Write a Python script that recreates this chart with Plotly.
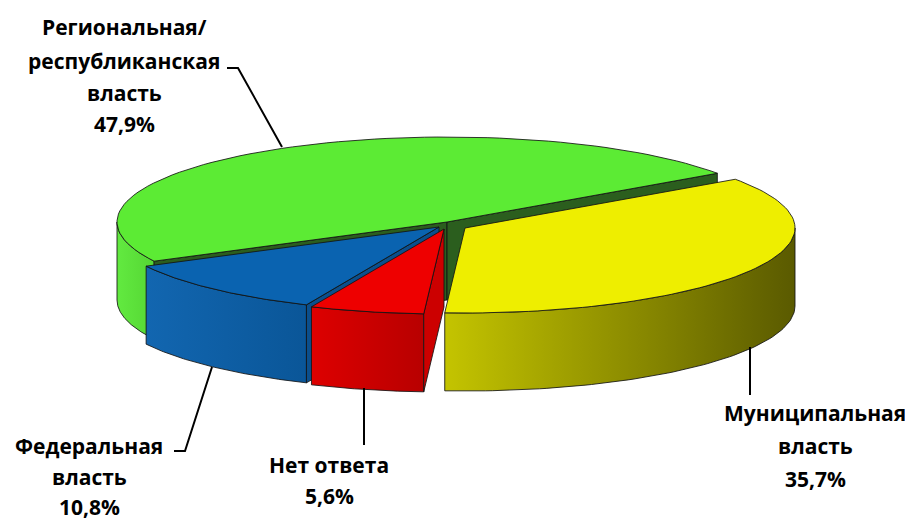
import numpy as np
import plotly.graph_objects as go

# ---- data ----
categories = ["Муниципальная власть", "Нет ответа", "Федеральная власть", "Региональная/республиканская власть"]
values = [35.7, 5.6, 10.8, 47.9]
label_lines = [
    ["Муниципальная", "власть", "35,7%"],
    ["Нет ответа", "5,6%"],
    ["Федеральная", "власть", "10,8%"],
    ["Региональная/", "республиканская", "власть", "47,9%"],
]

# ---- style / layout ----
W, H = 913, 520
PAD = 8  # page body margin
CX, CY, RX, RY, DEPTH = 447, 222, 330, 85, 78
START = 35.0
offsets = [(18, 6), (-3, 7), (-8, 5), (0, 0)]
top_col = ["#EEEE00", "#EE0000", "#0A63B0", "#5CEB34"]
wall_col = [("#C4C400", "#5A5A00"), ("#DD0000", "#B80000"), ("#1266B0", "#0A5698"), ("#62EA40", "#55D634")]
face_col = ["#9A9A00", "#CC0000", "#0B4F8C", "#2B5E1E"]
draw_order = [3, 0, 2, 1]
label_pos = [
    (815, [413, 446, 479]),
    (329, [465, 496]),
    (89, [446, 477, 507]),
    (124, [27, 61, 93, 124]),
]
leaders = [
    [(750, 347), (750, 395)],
    [(364, 388), (364, 445)],
    [(174, 451), (185, 451), (212, 367)],
    [(227, 68), (238, 68), (282, 147)],
]
OUT = dict(color="rgba(20,20,20,0.85)", width=1)
FONT = dict(family="Open Sans", size=21, color="black", weight="bold")

total = sum(values)
spans = []
a = START
for v in values:
    ts = a
    te = a - 360.0 * v / total
    spans.append((ts, te))
    a = te


def pt(t, ox, oy, dz=0.0):
    r = np.radians(t)
    return CX + ox + RX * np.cos(r), CY + oy - RY * np.sin(r) + dz


def arc(t1, t2, ox, oy, dz=0.0, n=80):
    ts = np.linspace(t1, t2, n)
    r = np.radians(ts)
    return CX + ox + RX * np.cos(r), CY + oy - RY * np.sin(r) + dz


fig = go.Figure()


def poly(xs, ys, color=None, grad=None):
    xs = list(xs) + [xs[0]]
    ys = list(ys) + [ys[0]]
    kw = dict(x=xs, y=ys, mode="lines", fill="toself", line=OUT,
              hoverinfo="skip", showlegend=False)
    if grad is not None:
        kw["fillgradient"] = dict(type="horizontal", colorscale=[[0, grad[0]], [1, grad[1]]])
    else:
        kw["fillcolor"] = color
    fig.add_trace(go.Scatter(**kw))


for i in draw_order:
    ts, te = spans[i]
    ox, oy = offsets[i]
    # visible outer wall parts (front half)
    for lo, hi in [(-180, 0), (-540, -360), (180, 360)]:
        a1, a2 = min(ts, hi), max(te, lo)
        if a1 > a2:
            tx, ty = arc(a1, a2, ox, oy)
            bx, by = arc(a2, a1, ox, oy, DEPTH)
            poly(np.concatenate([tx, bx]), np.concatenate([ty, by]), grad=wall_col[i])
    # cut faces
    for ang, nrm in [(ts, ts + 90), (te, te - 90)]:
        if np.sin(np.radians(nrm)) < 0:
            rx_, ry_ = pt(ang, ox, oy)
            ax_, ay_ = CX + ox, CY + oy
            poly([ax_, rx_, rx_, ax_], [ay_, ry_, ry_ + DEPTH, ay_ + DEPTH], color=face_col[i])
    # top
    tx, ty = arc(ts, te, ox, oy)
    poly(np.concatenate([[CX + ox], tx]), np.concatenate([[CY + oy], ty]), color=top_col[i])

annotations = []
for i, lines in enumerate(label_lines):
    x0, ys = label_pos[i]
    for txt, yy in zip(lines, ys):
        annotations.append(dict(x=x0, y=yy, xref="x", yref="y", text=txt, showarrow=False,
                                xanchor="center", yanchor="middle", font=FONT))

shapes = []
for seg in leaders:
    path = "M " + " L ".join(f"{x},{y}" for x, y in seg)
    shapes.append(dict(type="path", path=path, xref="x", yref="y",
                       line=dict(color="black", width=2)))

fig.update_layout(
    width=W - PAD, height=H - PAD, margin=dict(l=0, r=0, t=0, b=0),
    paper_bgcolor="white", plot_bgcolor="white",
    xaxis=dict(range=[PAD, W], visible=False, fixedrange=True),
    yaxis=dict(range=[H, PAD], visible=False, fixedrange=True),
    annotations=annotations, shapes=shapes, showlegend=False,
)
fig.write_html("out.html")
